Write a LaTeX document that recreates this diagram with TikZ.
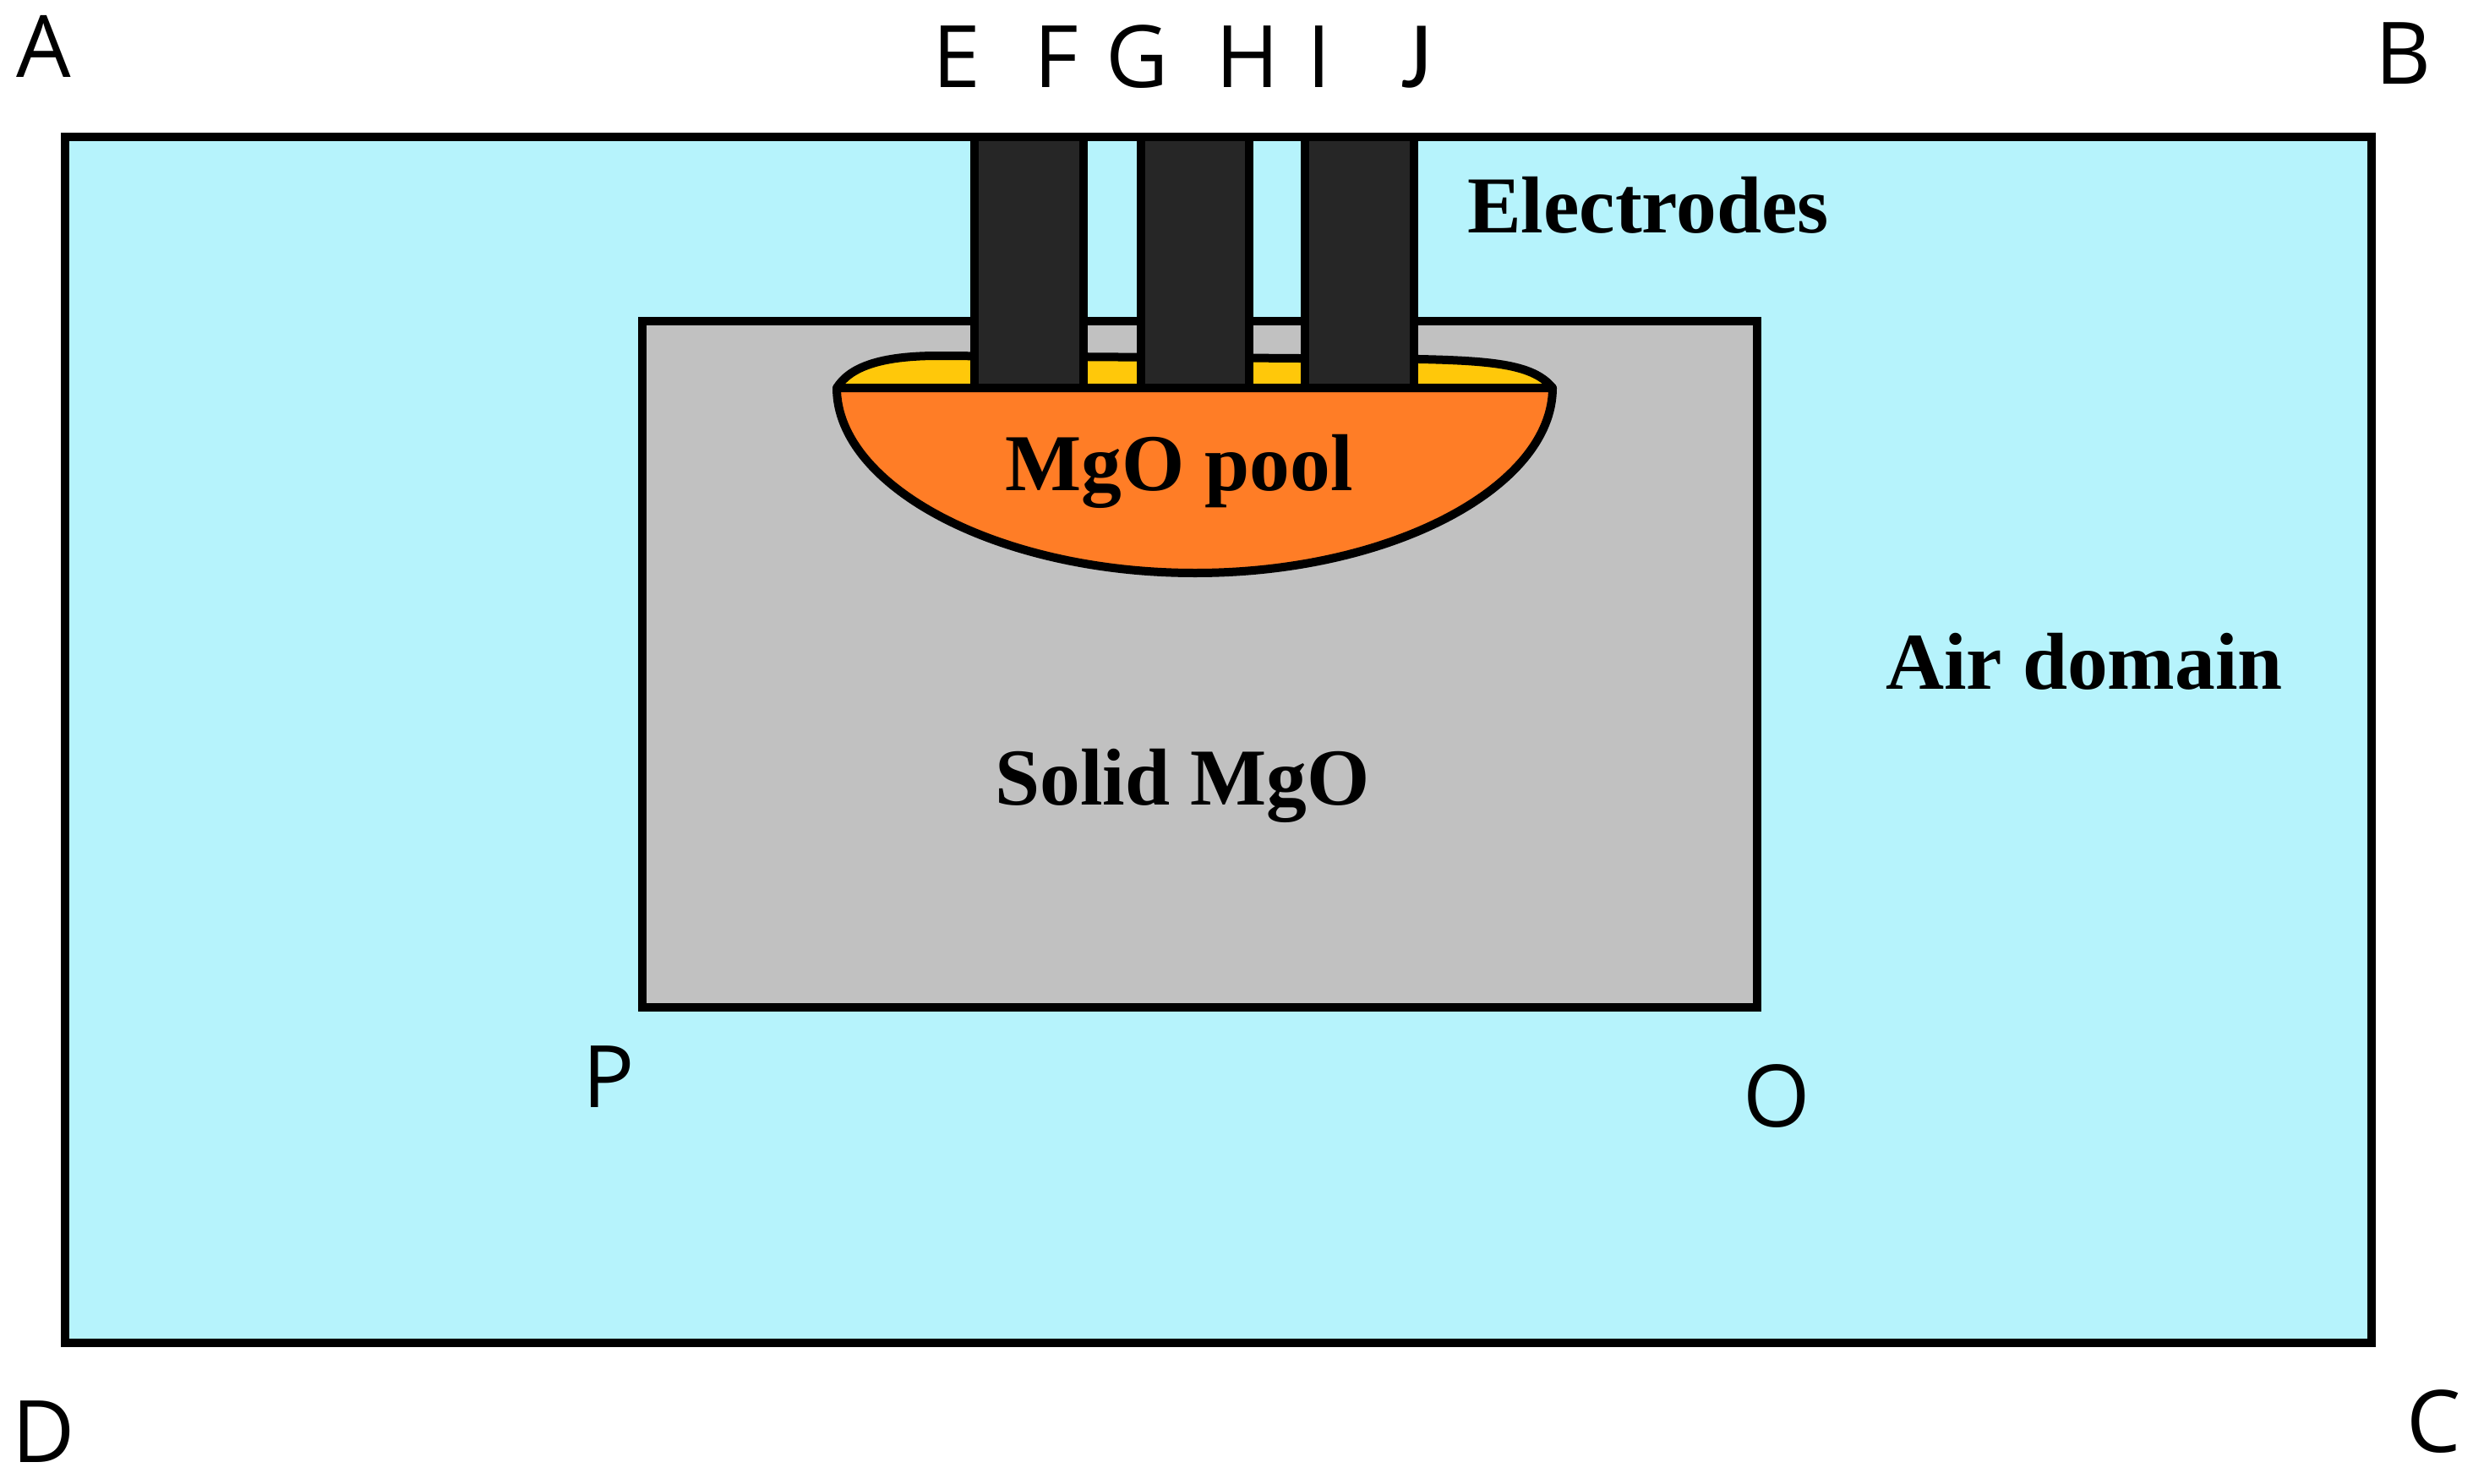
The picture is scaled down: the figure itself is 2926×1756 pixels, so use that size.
\documentclass[tikz,border=0pt]{standalone}
\usepackage{fontspec}
\setmainfont{Liberation Serif}
\newfontfamily\lab{Open Sans}
\newfontfamily\labj{Carlito}
\definecolor{air}{RGB}{182,243,252}
\definecolor{solid}{RGB}{193,193,193}
\definecolor{pool}{RGB}{255,125,38}
\definecolor{slag}{RGB}{255,200,10}
\definecolor{elec}{RGB}{38,38,38}
\tikzset{
  x=1pt,y=-1pt,
  wall/.style={draw=black,line width=10pt,line join=miter,miter limit=10},
  blob/.style={draw=black,line width=10pt,line join=round},
  rod/.style={draw=black,line width=9.5pt,fill=elec},
  word/.style={font=\fontsize{95.5}{95.5}\selectfont\bfseries,inner sep=0pt,text=black,anchor=base},
  pt/.style={font=\lab\fontsize{102}{102}\selectfont,inner sep=0pt,text=black,anchor=base},
}
\begin{document}
\begin{tikzpicture}
\useasboundingbox (0,0) rectangle (2926,1756);
\fill[white] (0,0) rectangle (2926,1756);
\path[wall,fill=air] (77,162) rectangle (2806,1589);
\path[wall,fill=solid] (760,380) rectangle (2079,1192);
\path[blob,fill=slag] (990,459) .. controls (1005,435) and (1040,421) .. (1110,421) -- (1680,425) .. controls (1770,427) and (1815,432) .. (1837,459) -- cycle;
\path[blob,fill=pool] (990,459) -- (1837,459) .. controls (1837,575) and (1648,678) .. (1414,678) .. controls (1180,678) and (990,575) .. (990,459) -- cycle;
\path[rod] (1153,162) rectangle (1282,459);
\path[rod] (1350,162) rectangle (1478,459);
\path[rod] (1544,162) rectangle (1673,459);
\node[word] (electrodes) at (1950,275) {Electrodes};
\node[word] (pooltext) at (1395,580) {MgO pool};
\node[word] (solidtext) at (1399,952) {Solid MgO};
\node[word] (airtext) at (2466,815) {Air domain};
\node[pt] (A) at (52,91) {A};
\node[pt] (B) at (2844,99) {B};
\node[pt] (C) at (2880,1718) {C};
\node[pt] (D) at (52,1730) {D};
\node[pt] (E) at (1132,103) {E};
\node[pt] (F) at (1250,103) {F};
\node[pt] (G) at (1346,103) {G};
\node[pt] (H) at (1476,103) {H};
\node[pt] (I) at (1561,103) {I};
\node[font=\labj\fontsize{113}{113}\selectfont,inner sep=0pt,anchor=base] (J) at (1675,103) {J};
\node[pt] (P) at (720,1310) {P};
\node[pt] (O) at (2102,1333) {O};
\end{tikzpicture}
\end{document}
